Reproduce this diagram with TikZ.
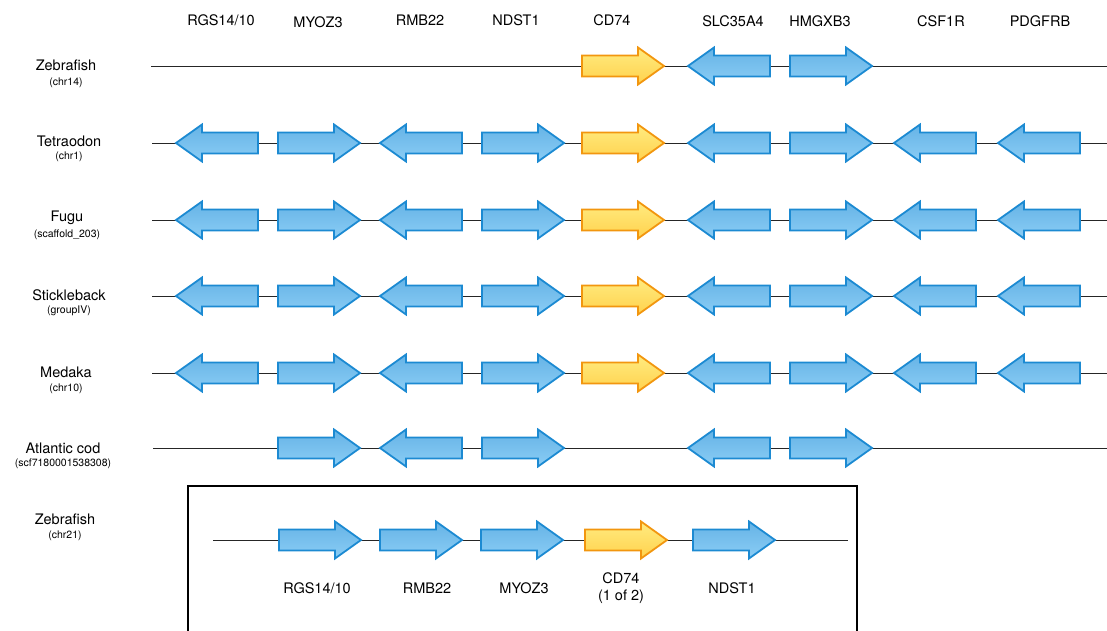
\documentclass[tikz,border=0pt]{standalone}
\usepackage{fontspec}
\setmainfont{TeX Gyre Heros}
\usetikzlibrary{calc}
\definecolor{gblue}{HTML}{1C8AD2}
\definecolor{gbluetop}{HTML}{66B3E6}
\definecolor{gbluebot}{HTML}{8ACDF5}
\definecolor{gyel}{HTML}{F2960F}
\definecolor{gyeltop}{HTML}{FFEB80}
\definecolor{gyelbot}{HTML}{FFD24D}
\tikzset{
 bluegene/.style={draw=gblue, line width=1.8pt, top color=gbluetop, bottom color=gbluebot, line join=miter},
 yelgene/.style={draw=gyel, line width=1.8pt, top color=gyeltop, bottom color=gyelbot, line join=miter},
 backbone/.style={draw=black!85, line width=0.9pt},
 species/.style={font=\fontsize{14.5}{17}\selectfont, inner sep=0pt},
 sublabel/.style={font=\fontsize{10.5}{12}\selectfont, inner sep=0pt},
 genelabel/.style={font=\fontsize{14.5}{17}\selectfont, inner sep=0pt},
 frame/.style={draw=black, line width=1.8pt}
}
\newcommand\gR[4]{%
 \path[#4] (#2,#3-10.5) -- (#2+56,#3-10.5) -- (#2+56,#3-18.5) -- (#2+82,#3) -- (#2+56,#3+18.5) -- (#2+56,#3+10.5) -- (#2,#3+10.5) -- cycle;
 \coordinate (#1) at (#2+41,#3);}
\newcommand\gL[4]{%
 \path[#4] (#2+82,#3-10.5) -- (#2+26,#3-10.5) -- (#2+26,#3-18.5) -- (#2,#3) -- (#2+26,#3+18.5) -- (#2+26,#3+10.5) -- (#2+82,#3+10.5) -- cycle;
 \coordinate (#1) at (#2+41,#3);}
\begin{document}
\begin{tikzpicture}[x=1pt,y=-1pt]
\useasboundingbox (0,0) rectangle (1107,631);
% top gene labels
\node[genelabel] (hRGS) at (221,20) {RGS14/10};
\node[genelabel] (hMYO) at (318,22) {MYOZ3};
\node[genelabel] (hRMB) at (420,20) {RMB22};
\node[genelabel] (hNDS) at (516,20) {NDST1};
\node[genelabel] (hCD) at (612,20) {CD74};
\node[genelabel] (hSLC) at (733,21) {SLC35A4};
\node[genelabel] (hHMG) at (820,21) {HMGXB3};
\node[genelabel] (hCSF) at (941,21) {CSF1R};
\node[genelabel] (hPDG) at (1040,21) {PDGFRB};
% species labels
\node[species] (lz) at (66,65) {Zebrafish};
\node[sublabel] (lzs) at (66,83) {(chr14)};
\node[species] (lt) at (69,141) {Tetraodon};
\node[sublabel] (lts) at (69,157) {(chr1)};
\node[species] (lf) at (67,218) {Fugu};
\node[sublabel] (lfs) at (67,235) {(scaffold\_203)};
\node[species] (ls) at (69,295) {Stickleback};
\node[sublabel] (lss) at (69,311) {(groupIV)};
\node[species] (lm) at (66,372) {Medaka};
\node[sublabel] (lms) at (66,389) {(chr10)};
\node[species] (la) at (63,448) {Atlantic cod};
\node[sublabel] (las) at (63,464) {(scf7180001538308)};
\node[species] (lb) at (65,519) {Zebrafish};
\node[sublabel] (lbs) at (65,536) {(chr21)};
% Zebrafish chr14
\coordinate (zs) at (151,66); \coordinate (ze) at (1107,66);
\draw[backbone] (zs) -- (ze);
\gR{z5}{582}{66}{yelgene}
\gL{z6}{688}{66}{bluegene}
\gR{z7}{790}{66}{bluegene}
% full rows
\foreach \r/\y in {t/143, f/220, s/296, m/373} {
 \coordinate (\r s) at (152,\y); \coordinate (\r e) at (1107,\y);
 \draw[backbone] (\r s) -- (\r e);
 \gL{\r1}{176}{\y}{bluegene}
 \gR{\r2}{278}{\y}{bluegene}
 \gL{\r3}{380}{\y}{bluegene}
 \gR{\r4}{482}{\y}{bluegene}
 \gR{\r5}{582}{\y}{yelgene}
 \gL{\r6}{688}{\y}{bluegene}
 \gR{\r7}{790}{\y}{bluegene}
 \gL{\r8}{894}{\y}{bluegene}
 \gL{\r9}{998}{\y}{bluegene}
}
% Atlantic cod
\coordinate (as) at (153,448); \coordinate (ae) at (1107,448);
\draw[backbone] (as) -- (ae);
\gR{a2}{278}{448}{bluegene}
\gL{a3}{380}{448}{bluegene}
\gR{a4}{482}{448}{bluegene}
\gL{a6}{688}{448}{bluegene}
\gR{a7}{790}{448}{bluegene}
% Zebrafish chr21 box
\draw[frame] (188,650) -- (188,486) -- (857,486) -- (857,650);
\coordinate (bs) at (213,540); \coordinate (be) at (848,540);
\draw[backbone] (bs) -- (be);
\gR{b1}{279}{540}{bluegene}
\gR{b2}{380}{540}{bluegene}
\gR{b3}{481}{540}{bluegene}
\gR{b4}{585}{540}{yelgene}
\gR{b5}{693}{540}{bluegene}
\node[genelabel] (bRGS) at (317,588) {RGS14/10};
\node[genelabel] (bRMB) at (427,588) {RMB22};
\node[genelabel] (bMYO) at (524,588) {MYOZ3};
\node[genelabel, align=center] (bCD) at (621,588) {CD74\\(1 of 2)};
\node[genelabel] (bNDS) at (732,588) {NDST1};
\end{tikzpicture}
\end{document}
